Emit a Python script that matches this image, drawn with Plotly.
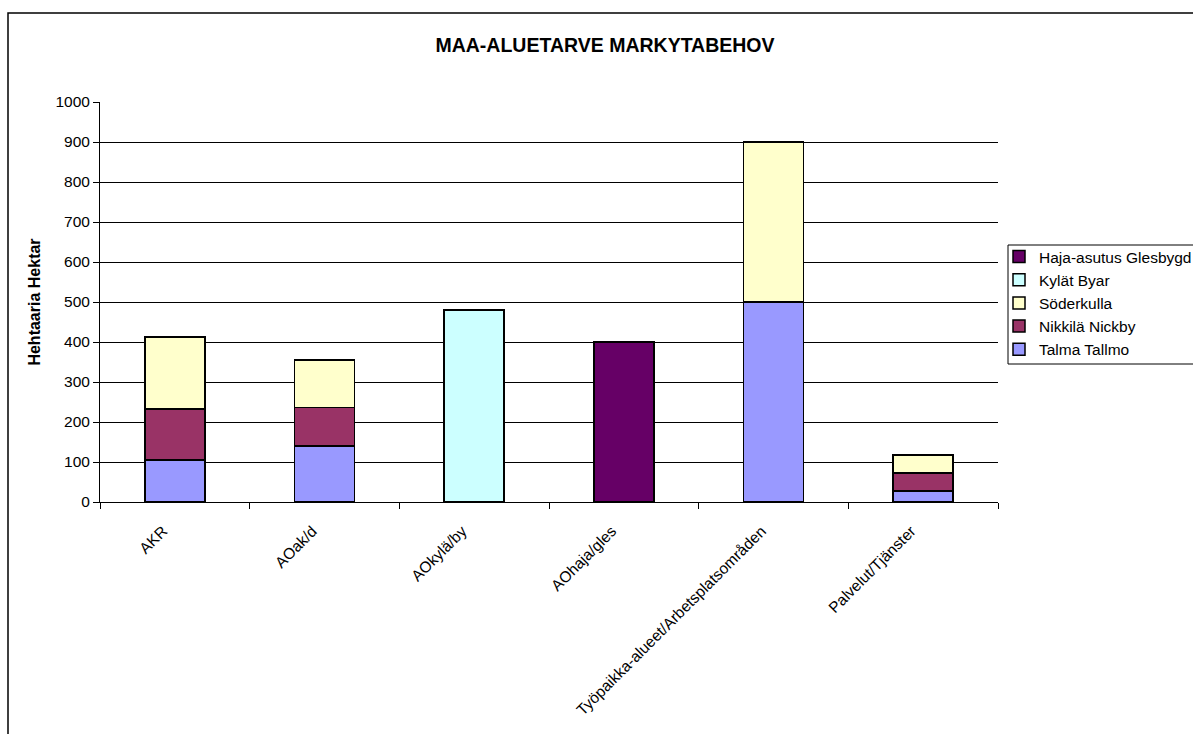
import plotly.graph_objects as go

categories = ["AKR", "AOak/d", "AOkylä/by", "AOhaja/gles",
              "Työpaikka-alueet/Arbetsplatsområden", "Palvelut/Tjänster"]
talma = [105, 140, 0, 0, 500, 27]
nikkila = [127, 96, 0, 0, 0, 46]
soderkulla = [181, 119, 0, 0, 400, 44]
kylat = [0, 0, 480, 0, 0, 0]
haja = [0, 0, 0, 400, 0, 0]
y_ticks = list(range(0, 1001, 100))

series = [
    ("Talma Tallmo", talma, "#9999FF"),
    ("Nikkilä Nickby", nikkila, "#993366"),
    ("Söderkulla", soderkulla, "#FFFFCC"),
    ("Kylät Byar", kylat, "#CCFFFF"),
    ("Haja-asutus Glesbygd", haja, "#660066"),
]

FONT = "Liberation Sans, Arial, sans-serif"

fig = go.Figure()
for name, vals, col in series:
    fig.add_trace(go.Bar(
        x=categories, y=vals, name=name,
        marker=dict(color=col, line=dict(color="black", width=1.5)),
    ))

L, R, T, B = 100, 195, 102, 232
W, H = 1193, 734
pw = W - L - R
ph = H - T - B

def px2paper_x(px):
    return (px - L) / pw

def px2paper_y(py):
    return (H - B - py) / ph

fig.update_layout(
    width=W, height=H,
    margin=dict(l=L, r=R, t=T, b=B, autoexpand=False),
    barmode="stack", bargap=0.6,
    plot_bgcolor="white", paper_bgcolor="white",
    font=dict(family=FONT, size=15, color="black"),
    title=dict(text="<b>MAA-ALUETARVE MARKYTABEHOV</b>",
               font=dict(family=FONT, size=19.5, color="black"),
               x=px2paper_x(605), xref="paper", xanchor="center",
               y=1 - 45 / H, yanchor="middle"),
    showlegend=True,
    legend=dict(traceorder="reversed",
                x=px2paper_x(999), xanchor="left",
                y=px2paper_y(240), yanchor="top",
                borderwidth=0,
                bgcolor="rgba(0,0,0,0)",
                font=dict(family=FONT, size=15.5, color="black"),
                itemwidth=30, tracegroupgap=0),
    xaxis=dict(type="category", tickangle=-45,
               showline=True, linecolor="black", linewidth=1,
               ticks="outside", tickson="boundaries", ticklen=6,
               tickcolor="black", tickfont=dict(size=15.5),
               ticklabelshift=-12, ticklabelstandoff=13,
               showgrid=False),
    yaxis=dict(range=[0, 1000], tickvals=y_ticks,
               showline=True, linecolor="black", linewidth=1,
               ticks="outside", ticklen=6, tickcolor="black",
               showgrid=True, gridcolor="black", gridwidth=1,
               tickfont=dict(size=15.5),
               title=dict(text="<b>Hehtaaria Hektar</b>",
                          font=dict(size=16), standoff=10),
               zeroline=False),
)

# outer chart frame
fig.add_shape(type="rect", xref="paper", yref="paper",
              x0=px2paper_x(8), x1=px2paper_x(1210),
              y0=px2paper_y(760), y1=px2paper_y(13),
              line=dict(color="black", width=1.5), layer="below")
# legend box
fig.add_shape(type="rect", xref="paper", yref="paper",
              x0=px2paper_x(1008), x1=px2paper_x(1198),
              y0=px2paper_y(364), y1=px2paper_y(245),
              line=dict(color="black", width=1), layer="below")

fig.write_html("out.html")
